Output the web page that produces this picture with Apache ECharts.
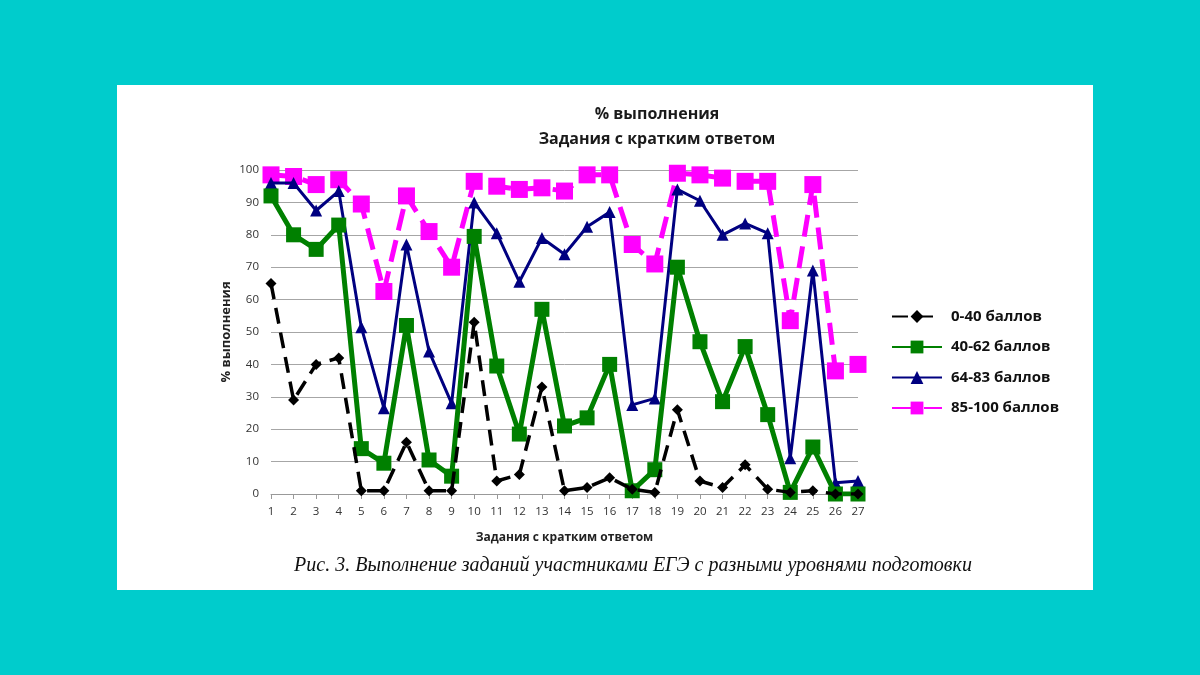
<!DOCTYPE html>
<html><head><meta charset="utf-8">
<script src="https://cdn.jsdelivr.net/npm/echarts@6/dist/echarts.min.js"></script>
<style>html,body{margin:0;padding:0;background:#00CCCC;}#c{width:1200px;height:675px;}</style>
</head><body><div id="c"></div>
<script>
const categories = ['1','2','3','4','5','6','7','8','9','10','11','12','13','14','15','16','17','18','19','20','21','22','23','24','25','26','27'];
const s0_40 = [65,29,40,42,1,1,16,1,1,53,4,6,33,1,2,5,1.5,0.5,26,4,2,9,1.5,0.5,1,0,0];
const s40_62 = [92,80,75.5,83,14,9.5,52,10.5,5.5,79.5,39.5,18.5,57,21,23.5,40,1,7.5,70,47,28.5,45.5,24.5,0.5,14.5,0,0];
const s64_83 = [96,96,87.5,93.5,51.5,26.5,77,44,28,90,80.5,65.5,79,74,82.5,87,27.5,29.5,94,90.5,80,83.5,80.5,11,69,3.5,4];
const s85_100 = [98.5,98,95.5,97,89.5,62.5,92,81,70,96.5,95,94,94.5,93.5,98.5,98.5,77,71,99,98.5,97.5,96.5,96.5,53.5,95.5,38,40];
const seriesNames = ['0-40 баллов','40-62 баллов','64-83 баллов','85-100 баллов'];
const yTicks = [0,10,20,30,40,50,60,70,80,90,100];

const chart = echarts.init(document.getElementById('c'));
const font = '"Open Sans", "Liberation Sans", Arial, sans-serif';
chart.setOption({
  backgroundColor: '#00CCCC',
  animation: false,
  graphic: [{type:'rect', z:-10, shape:{x:117,y:85,width:976,height:505}, style:{fill:'#ffffff'}}],
  title: [
    {text:'% выполнения', left:652, top:101, textAlign:'center', textStyle:{fontSize:16, fontWeight:'bold', color:'#1a1a1a', fontFamily:font}},
    {text:'Задания с кратким ответом', left:652, top:126, textAlign:'center', textStyle:{fontSize:16, fontWeight:'bold', color:'#1a1a1a', fontFamily:font}},
    {text:'Рис. 3. Выполнение заданий участниками ЕГЭ с разными уровнями подготовки', left:628, top:551, textAlign:'center', textStyle:{fontSize:20, fontStyle:'italic', fontWeight:'normal', color:'#111', fontFamily:'"Liberation Serif", "Times New Roman", serif'}}
  ],
  legend: {
    orient:'vertical', left:886, top:304, itemGap:15.5, itemWidth:50, itemHeight:16,
    data: seriesNames,
    textStyle:{fontSize:15, fontWeight:'bold', color:'#111', fontFamily:font, padding:[0,0,0,4]}
  },
  grid: {left:271, right:342, top:170, bottom:181},
  xAxis: {
    type:'category', data:categories, boundaryGap:false,
    name:'Задания с кратким ответом', nameLocation:'middle', nameGap:38,
    nameTextStyle:{fontSize:12, fontWeight:'bold', color:'#222', fontFamily:font},
    axisLine:{lineStyle:{color:'#999', width:1}},
    axisTick:{show:true, alignWithLabel:true, lineStyle:{color:'#999'}},
    axisLabel:{fontSize:11.5, color:'#333', interval:0, fontFamily:font, margin:12}
  },
  yAxis: {
    type:'value', min:0, max:100, interval:10,
    name:'% выполнения', nameLocation:'middle', nameGap:38, nameRotate:90,
    nameTextStyle:{fontSize:13, fontWeight:'bold', color:'#222', fontFamily:font},
    axisLine:{show:false}, axisTick:{show:false},
    axisLabel:{fontSize:11.5, color:'#333', fontFamily:font, margin:12, formatter:(v)=> yTicks.includes(v)? String(v):''},
    splitLine:{lineStyle:{color:'#a6a6a6', width:1}}
  },
  series: [
    {name:seriesNames[0], type:'line', data:s0_40, symbol:'diamond', symbolSize:11, color:'#000000',
     lineStyle:{width:3.5, type:[16,9], color:'#000'}, itemStyle:{color:'#000'}, z:5},
    {name:seriesNames[1], type:'line', data:s40_62, symbol:'rect', symbolSize:15, color:'#008000',
     lineStyle:{width:5, color:'#008000'}, itemStyle:{color:'#008000'}, z:4},
    {name:seriesNames[2], type:'line', data:s64_83, symbol:'triangle', symbolSize:12, color:'#000080',
     lineStyle:{width:3, color:'#000080'}, itemStyle:{color:'#000080'}, z:3},
    {name:seriesNames[3], type:'line', data:s85_100, symbol:'rect', symbolSize:17, color:'#FF00FF',
     lineStyle:{width:5, type:[22,10], color:'#FF00FF'}, itemStyle:{color:'#FF00FF'}, z:2}
  ]
});
</script></body></html>
